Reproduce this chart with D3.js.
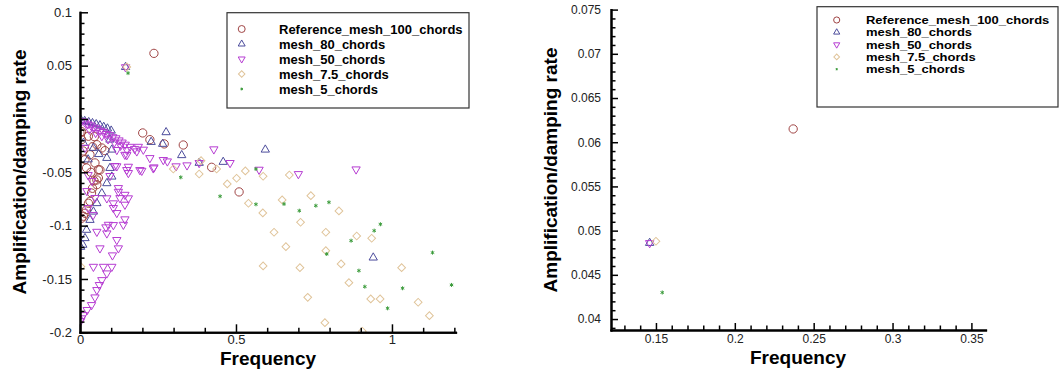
<!DOCTYPE html>
<html>
<head>
<meta charset="utf-8">
<script src="https://cdn.jsdelivr.net/npm/d3@7"></script>
<style>
  body { margin: 0; background: #fff; }
  svg { display: block; font-family: "Liberation Sans", Arial, sans-serif; }
  .axis .domain { stroke: #000; stroke-width: 2px; stroke-linecap: square; }
  .axis line { stroke: #000; stroke-width: 1.5px; }
  .axis text { fill: #222; }
  .title { font-weight: bold; font-size: 19px; fill: #000; }
  .legend text { font-weight: bold; font-size: 13px; fill: #000; }
</style>
</head>
<body>
<svg id="chart" width="1064" height="372"></svg>
<script>
// legend labels, one per series
const seriesLabels = ['Reference_mesh_100_chords', 'mesh_80_chords', 'mesh_50_chords', 'mesh_7.5_chords', 'mesh_5_chords'];

// [frequency, amplification/damping rate]
const refMesh100 = [
  [0.237, 0.0615],
  [0.000, -0.0131], [0.005, -0.0119], [0.027, -0.0162], [0.046, -0.0166], [0.054, -0.0241],
  [0.070, -0.0272], [0.080, -0.0297], [0.005, -0.0194], [0.032, -0.0335], [0.016, -0.0382],
  [0.048, -0.0412], [0.021, -0.0459], [0.059, -0.0475], [0.064, -0.0478], [0.059, -0.0553],
  [0.054, -0.0572], [0.054, -0.0616], [0.037, -0.0694], [0.032, -0.0772], [0.027, -0.0790],
  [0.021, -0.0850], [0.016, -0.0884], [0.011, -0.0912], [0.005, -0.0931], [0.040, -0.026],
  [0.010, -0.030], [0.035, -0.050], [0.045, -0.058], [0.040, -0.065],
  [0.201, -0.0131], [0.224, -0.0194], [0.270, -0.0234], [0.331, -0.0244], [0.422, -0.0453],
  [0.510, -0.0684]
];

const mesh80 = [
  [0.146, 0.0486],
  [0.003, -0.001], [0.015, -0.002], [0.028, -0.003], [0.040, -0.004], [0.052, -0.005],
  [0.064, -0.006], [0.076, -0.0075], [0.088, -0.009], [0.100, -0.011],
  [0.011, -0.0225], [0.043, -0.0272], [0.026, -0.038], [0.060, -0.033],
  [0.096, -0.0194], [0.102, -0.0288], [0.086, -0.0366], [0.096, -0.046], [0.102, -0.0541],
  [0.086, -0.0603], [0.070, -0.0697], [0.054, -0.0790], [0.043, -0.0869], [0.032, -0.0947],
  [0.021, -0.104], [0.016, -0.1118], [0.009, -0.118], [0.002, -0.120],
  [0.228, -0.0216], [0.265, -0.0234], [0.276, -0.0125], [0.326, -0.0340], [0.382, -0.0412],
  [0.459, -0.0403], [0.594, -0.0288], [0.940, -0.130]
];

const mesh50 = [
  [0.146, 0.0486],
  [0.005, -0.002], [0.015, -0.003], [0.025, -0.005], [0.035, -0.006], [0.045, -0.008],
  [0.055, -0.009], [0.065, -0.011], [0.075, -0.012], [0.085, -0.014], [0.095, -0.015],
  [0.105, -0.017], [0.115, -0.018], [0.125, -0.020], [0.135, -0.022], [0.145, -0.024],
  [0.160, -0.026], [0.175, -0.028], [0.187, -0.026],
  [0.030, -0.010], [0.050, -0.013], [0.070, -0.016], [0.090, -0.019], [0.110, -0.022],
  [0.130, -0.025], [0.150, -0.029], [0.118, -0.029],
  [0.203, -0.0287], [0.224, -0.0366], [0.198, -0.0485], [0.237, -0.0453], [0.280, -0.0397],
  [0.308, -0.0443], [0.343, -0.0434], [0.382, -0.0412], [0.429, -0.0284], [0.481, -0.0412],
  [0.574, -0.0475], [0.700, -0.0516], [0.885, -0.0472], [0.150, -0.0338], [0.267, -0.0384],
  [0.235, -0.0462], [0.192, -0.0478], [0.155, -0.0447], [0.112, -0.044], [0.118, -0.0443],
  [0.155, -0.0506], [0.144, -0.0335], [0.182, -0.0303],
  [0.016, -0.027], [0.026, -0.0525], [0.038, -0.058], [0.022, -0.0675], [0.048, -0.074],
  [0.026, -0.0834], [0.042, -0.090],
  [0.123, -0.0647], [0.144, -0.071], [0.128, -0.0741], [0.144, -0.0803], [0.107, -0.0834],
  [0.118, -0.0881], [0.091, -0.0991], [0.139, -0.0991], [0.096, -0.0534], [0.150, -0.0478],
  [0.123, -0.0682], [0.155, -0.0743], [0.086, -0.0743], [0.107, -0.079], [0.144, -0.094],
  [0.107, -0.0994], [0.083, -0.1015], [0.054, -0.1057], [0.086, -0.1072], [0.118, -0.1134],
  [0.123, -0.1212], [0.064, -0.1212], [0.104, -0.1278], [0.043, -0.1385], [0.075, -0.1385],
  [0.102, -0.1385], [0.086, -0.1447], [0.070, -0.151], [0.062, -0.1556], [0.054, -0.1603],
  [0.048, -0.1672], [0.037, -0.1744], [0.023, -0.179], [0.011, -0.1838], [0.005, -0.1868],
  [0.002, -0.1894]
];

const mesh7p5 = [
  [0.150, 0.0488],
  [0.003, -0.1385], [0.299, -0.0469], [0.382, -0.0516], [0.388, -0.0391], [0.438, -0.0469],
  [0.472, -0.0609], [0.502, -0.0556], [0.530, -0.0487], [0.540, -0.079], [0.586, -0.0881],
  [0.587, -0.0537], [0.671, -0.0525], [0.648, -0.0759], [0.740, -0.0719], [0.707, -0.0968],
  [0.830, -0.0862], [0.622, -0.1062], [0.788, -0.1062], [0.887, -0.1097], [0.935, -0.1118],
  [0.660, -0.1197], [0.788, -0.1235], [0.837, -0.1359], [0.587, -0.1378], [0.705, -0.1394],
  [1.031, -0.1394], [0.862, -0.1535], [0.932, -0.1687], [0.962, -0.1687], [0.730, -0.1672],
  [1.084, -0.1718], [1.120, -0.1844], [0.785, -0.191], [0.905, -0.199]
];

const mesh5 = [
  [0.154, 0.0430],
  [0.323, -0.0547], [0.449, -0.0725], [0.564, -0.080], [0.564, -0.0469], [0.654, -0.0797],
  [0.703, -0.086], [0.756, -0.0813], [0.798, -0.0781], [0.869, -0.1141], [0.943, -0.1047],
  [0.963, -0.0987], [0.791, -0.1266], [0.894, -0.1422], [0.913, -0.1572], [0.986, -0.1775],
  [1.034, -0.1587], [1.130, -0.1253], [1.191, -0.1556]
];

// tick values and labels
const leftXTicks = [0, 0.5, 1];
const leftXLabels = ['0', '0.5', '1'];
const leftYTicks = [-0.2, -0.15, -0.1, -0.05, 0, 0.05, 0.1];
const leftYLabels = ['-0.2', '-0.15', '-0.1', '-0.05', '0', '0.05', '0.1'];
const rightXTicks = [0.15, 0.2, 0.25, 0.3, 0.35];
const rightXLabels = ['0.15', '0.2', '0.25', '0.3', '0.35'];
const rightYTicks = [0.04, 0.045, 0.05, 0.055, 0.06, 0.065, 0.07, 0.075];
const rightYLabels = ['0.04', '0.045', '0.05', '0.055', '0.06', '0.065', '0.07', '0.075'];

const allSeries = [refMesh100, mesh80, mesh50, mesh7p5, mesh5];

// marker look per series
const markerStyles = [
  { kind: 'circle', color: '#a04444', size: 54 },
  { kind: 'up', color: '#4c4c9c', size: 30 },
  { kind: 'down', color: '#b63cd2', size: 30 },
  { kind: 'diamond', color: '#e0c49a', size: 30 },
  { kind: 'star', color: '#3c9c3c', size: 2 }
];

const svg = d3.select('#chart');

// small asterisk for mesh_5
function starPath(r) {
  const p = d3.path();
  for (let k = 0; k < 3; k++) {
    const a = Math.PI / 2 + k * Math.PI / 3;
    p.moveTo(-r * Math.cos(a), -r * Math.sin(a));
    p.lineTo(r * Math.cos(a), r * Math.sin(a));
  }
  return p.toString();
}

function addMarkers(sel, style, scale) {
  const s = style.size * scale;
  let d, rot = 0;
  if (style.kind === 'circle') d = d3.symbol(d3.symbolCircle, s)();
  else if (style.kind === 'up') d = d3.symbol(d3.symbolTriangle, s)();
  else if (style.kind === 'down') { d = d3.symbol(d3.symbolTriangle, s)(); rot = 180; }
  else if (style.kind === 'diamond') { d = d3.symbol(d3.symbolSquare, s)(); rot = 45; }
  else d = starPath(s);
  sel.append('path')
    .attr('d', d)
    .attr('fill', 'none')
    .attr('stroke', style.color)
    .attr('stroke-width', 1)
    .attr('transform', function () {
      const t = d3.select(this.parentNode).attr('data-t') || '';
      return t + (rot ? ` rotate(${rot})` : '');
    });
}

function minorTicks(lo, hi, step, majors) {
  return d3.range(Math.round(lo / step), Math.round(hi / step) + 1)
    .map(k => +(k * step).toFixed(6))
    .filter(v => !majors.some(m => Math.abs(m - v) < step / 10));
}

function drawPanel(p) {
  const x = d3.scaleLinear().domain(p.xDomain).range([p.left, p.right]);
  const y = d3.scaleLinear().domain(p.yDomain).range([p.bottom, p.top]);
  const g = svg.append('g');

  g.append('clipPath').attr('id', p.id + '-clip')
    .append('rect')
    .attr('x', p.left).attr('y', p.top - 1)
    .attr('width', p.right - p.left).attr('height', p.bottom - p.top + 1);

  // points
  const plot = g.append('g').attr('clip-path', `url(#${p.id}-clip)`);
  allSeries.forEach((data, i) => {
    const pts = plot.selectAll(null)
      .data(data.filter(d => d[0] >= p.xDomain[0] - 0.01 && d[0] <= p.xDomain[1] + 0.01 &&
                             d[1] >= p.yDomain[0] - 0.01 && d[1] <= p.yDomain[1] + 0.01))
      .enter().append('g')
      .attr('data-t', d => `translate(${x(d[0])},${y(d[1])})`);
    addMarkers(pts, markerStyles[i], 1);
  });

  // axes: minor ticks then major ticks
  const yMin = minorTicks(p.yDomain[0], p.yDomain[1], p.yMinorStep, p.yTicks)
    .filter(v => v >= p.yDomain[0] && v <= p.yDomain[1]);
  const xMin = minorTicks(p.xDomain[0], p.xDomain[1], p.xMinorStep, p.xTicks)
    .filter(v => v >= p.xDomain[0] && v <= p.xDomain[1]);

  g.append('g').attr('class', 'axis')
    .attr('transform', `translate(${p.left},0)`)
    .call(d3.axisLeft(y).tickValues(yMin).tickSizeInner(-p.minorLen).tickSizeOuter(0).tickFormat(''));
  g.append('g').attr('class', 'axis')
    .attr('transform', `translate(${p.left},0)`)
    .call(d3.axisLeft(y).tickValues(p.yTicks).tickSizeInner(-p.majorLen).tickSizeOuter(0)
      .tickPadding(p.yPad).tickFormat((d, i) => p.yLabels[i]));

  g.append('g').attr('class', 'axis')
    .attr('transform', `translate(0,${p.bottom})`)
    .call(d3.axisBottom(x).tickValues(xMin).tickSizeInner(-p.minorLen).tickSizeOuter(0).tickFormat(''));
  g.append('g').attr('class', 'axis')
    .attr('transform', `translate(0,${p.bottom})`)
    .call(d3.axisBottom(x).tickValues(p.xTicks).tickSizeInner(-p.majorLen).tickSizeOuter(0)
      .tickPadding(p.xPad).tickFormat((d, i) => p.xLabels[i]));

  g.selectAll('.axis').attr('font-family', null).attr('font-size', p.tickFont);

  // titles
  g.append('text').attr('class', 'title')
    .attr('x', p.xTitle[0]).attr('y', p.xTitle[1])
    .attr('text-anchor', 'middle').text('Frequency');
  g.append('text').attr('class', 'title')
    .attr('transform', `translate(${p.yTitle[0]},${p.yTitle[1]}) rotate(-90)`)
    .attr('text-anchor', 'middle').text('Amplification/damping rate');

  // legend
  const lg = g.append('g').attr('class', 'legend');
  lg.append('rect')
    .attr('x', p.legend.x).attr('y', p.legend.y)
    .attr('width', p.legend.w).attr('height', p.legend.h)
    .attr('fill', '#fff').attr('stroke', '#333').attr('stroke-width', 1.2);
  seriesLabels.forEach((label, i) => {
    const cy = p.legend.row0 + i * p.legend.step;
    const sym = lg.append('g').attr('data-t', `translate(${p.legend.symX},${cy})`);
    addMarkers(sym, markerStyles[i], p.legend.symScale);
    lg.append('text')
      .attr('transform', `translate(${p.legend.textX},${cy}) scale(1,${p.legend.squash})`)
      .attr('y', 4.6)
      .text(label);
  });
}

drawPanel({
  id: 'left',
  xDomain: [0, 1.204], yDomain: [-0.2, 0.1],
  left: 80, right: 455.6, top: 12.3, bottom: 332.3,
  xTicks: leftXTicks, xLabels: leftXLabels, xMinorStep: 0.1,
  yTicks: leftYTicks, yLabels: leftYLabels, yMinorStep: 0.01,
  majorLen: 8, minorLen: 4.5, tickFont: 13, yPad: 8, xPad: 2.5,
  xTitle: [268, 364.5], yTitle: [26, 172],
  legend: { x: 227, y: 12.7, w: 242, h: 95.3, row0: 29, step: 15, symX: 241.7, textX: 279,
            symScale: 0.7, squash: 1 }
});

drawPanel({
  id: 'right',
  xDomain: [0.1215, 0.359], yDomain: [0.03876, 0.075],
  left: 611, right: 985.6, top: 9.6, bottom: 330,
  xTicks: rightXTicks, xLabels: rightXLabels, xMinorStep: 0.01,
  yTicks: rightYTicks, yLabels: rightYLabels, yMinorStep: 0.001,
  majorLen: 7, minorLen: 4.5, tickFont: 12, yPad: 10, xPad: 4,
  xTitle: [798, 364], yTitle: [557, 170],
  legend: { x: 817, y: 6.7, w: 241, h: 100.3, row0: 20, step: 12.3, symX: 836.7, textX: 866,
            symScale: 0.55, squash: 0.85 }
});
</script>
</body>
</html>
